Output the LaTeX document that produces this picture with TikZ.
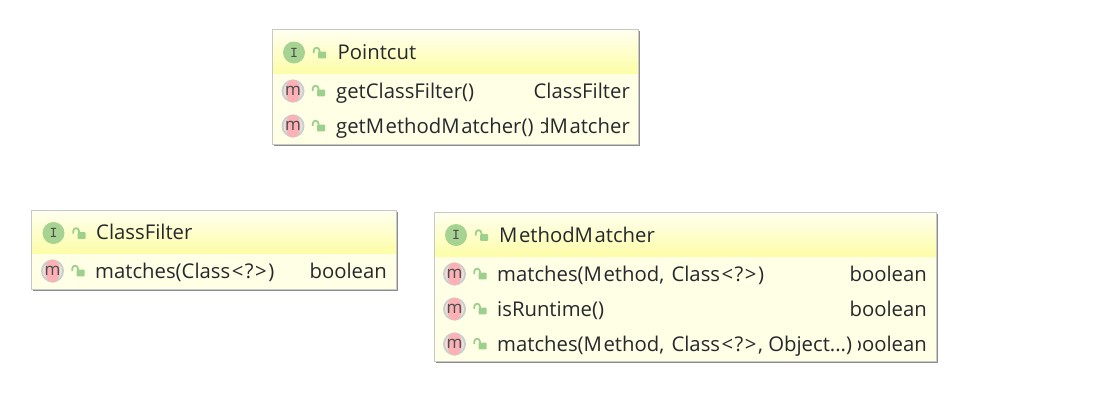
\documentclass[tikz,border=0pt]{standalone}
\usepackage{fontspec}
\setmainfont{Open Sans}
\definecolor{hdrtop}{HTML}{FFFFF0}
\definecolor{hdrbot}{HTML}{FDFDA8}
\definecolor{bodyc}{HTML}{FFFFE6}
\definecolor{edgec}{HTML}{C8C8C8}
\definecolor{shadowc}{HTML}{8C8C8C}
\definecolor{igreen}{HTML}{A6D391}
\definecolor{lockg}{HTML}{9CD08C}
\definecolor{mpink}{HTML}{FBB1B5}
\definecolor{mgray}{HTML}{C9CDD0}
\definecolor{txt}{HTML}{26282C}
\newcommand{\gen}{\kern1.5pt<\kern1.5pt?\kern1.5pt>\kern1.5pt}
\newcommand{\Mm}{M\kern1.5pt}
\tikzset{
  x=1pt,y=-1pt,
  label text/.style={inner sep=0pt,text=txt,font=\fontsize{20.3}{24}\selectfont,anchor=base west},
  ret text/.style={inner sep=0pt,text=txt,font=\fontsize{20.3}{24}\selectfont,anchor=base east},
  icon letter/.style={inner sep=0pt,text=black!70,anchor=center}
}
% box: x1,y1,x2,y2,yheader
\newcommand{\umlbox}[5]{%
  \fill[shadowc] (#1+1.5,#2+1.5) rectangle (#3+1.5,#4+1.5);
  \fill[bodyc] (#1,#2) rectangle (#3,#4);
  \shade[top color=hdrtop,bottom color=hdrbot] (#1,#2) rectangle (#3,#5);
  \draw[edgec,line width=1pt] (#1,#2) rectangle (#3,#4);
}
\newcommand{\lockicon}[2]{%
  \fill[lockg,rounded corners=0.6pt] (#1-0.8,#2-1.8) rectangle (#1+7,#2+4.8);
  \draw[lockg,line width=1.8pt] (#1-5.2,#2-0.5) -- (#1-5.2,#2-3) arc[start angle=180,end angle=360,radius=2.8] -- (#1+0.4,#2-1.5);
}
\newcommand{\iicon}[3]{%
  \fill[igreen] (#1,#2) circle[radius=11];
  \node[icon letter,font=\fontfamily{lmtt}\fontsize{15}{15}\bfseries\selectfont] (#3) at (#1,#2) {I};
  \lockicon{#1+25}{#2+1}
}
\newcommand{\micon}[3]{%
  \fill[mgray] (#1,#2) circle[radius=11.5];
  \fill[bodyc!50!mgray] (#1,#2) circle[radius=9.5];
  \fill[mpink] (#1,#2) ellipse[x radius=7.5,y radius=11.5];
  \node[icon letter,font=\fontsize{17}{17}\selectfont] (#3) at (#1,#2-0.5) {m};
  \lockicon{#1+25}{#2+0.5}
}
\begin{document}
\begin{tikzpicture}
\useasboundingbox (0,0) rectangle (1093,402);
\fill[white] (0,0) rectangle (1093,402);
% Pointcut
\umlbox{272.5}{29.5}{638.5}{144.5}{73}
\iicon{294}{52.5}{ia}
\node[label text] (pc) at (337.5,59) {Pointcut};
\micon{293}{91}{ma}
\node[label text] (pc1) at (336,98) {getClassFilter()};
\node[ret text] (pc1r) at (630,98) {ClassFilter};
\micon{293}{126}{mb}
\begin{scope}
\clip (541,110) rectangle (638,140);
\node[ret text] (pc2r) at (630,133) {d\Mm atcher};
\end{scope}
\node[label text] (pc2) at (336,133) {get\Mm ethod\Mm atcher()};
% ClassFilter
\umlbox{31.5}{210.5}{396.5}{289.5}{253}
\iicon{53.5}{233}{ib}
\node[label text] (cf) at (96,239.5) {ClassFilter};
\micon{52.5}{271}{mc}
\node[label text] (cf1) at (95,278) {matches(Class\gen)};
\node[ret text] (cf1r) at (387,278) {boolean};
% MethodMatcher
\umlbox{434.5}{212.5}{936.5}{361.5}{256}
\iicon{456}{235}{ic}
\node[label text] (mm) at (499,242) {\Mm ethod\Mm atcher};
\micon{454.5}{274}{md}
\node[label text] (mm1) at (497,281) {matches(\Mm ethod,\kern2pt{} Class\gen)};
\node[ret text] (mm1r) at (927,281) {boolean};
\micon{454.5}{309}{me}
\node[label text] (mm2) at (497,316) {isRuntime()};
\node[ret text] (mm2r) at (927,316) {boolean};
\micon{454.5}{344}{mf}
\begin{scope}
\clip (858,328) rectangle (936,358);
\node[ret text] (mm3r) at (927,351) {boolean};
\end{scope}
\node[label text] (mm3) at (497,351) {matches(\Mm ethod,\kern2pt{} Class\gen,\ Object...)};
\end{tikzpicture}
\end{document}
